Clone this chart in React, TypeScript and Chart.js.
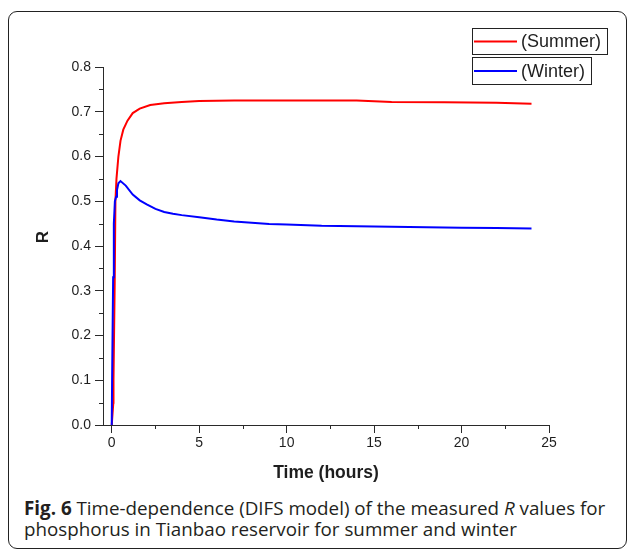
import React, { useEffect, useRef } from "react";
import { Chart, registerables } from "chart.js";

Chart.register(...registerables);

// ---- data ----
const summerTime = [0, 0.09, 0.1, 0.17, 0.21, 0.27, 0.38, 0.5, 0.66, 0.9, 1.2, 1.6, 2.2, 3, 4, 5, 7, 10, 14, 16, 19, 22, 24];
const summerR = [0, 0.05, 0.1, 0.32, 0.5, 0.55, 0.6, 0.635, 0.66, 0.68, 0.697, 0.707, 0.715, 0.719, 0.722, 0.724, 0.725, 0.725, 0.725, 0.722, 0.721, 0.72, 0.718];

const winterTime = [0, 0.02, 0.08, 0.12, 0.18, 0.25, 0.3, 0.38, 0.5, 0.8, 1.2, 1.6, 2.0, 2.5, 3, 3.5, 4, 5, 6, 7, 8, 9, 10, 12, 14, 16, 18, 20, 22, 24];
const winterR = [0, 0.1, 0.33, 0.45, 0.5, 0.51, 0.525, 0.54, 0.545, 0.535, 0.515, 0.502, 0.493, 0.483, 0.476, 0.472, 0.469, 0.464, 0.459, 0.455, 0.452, 0.449, 0.448, 0.445, 0.444, 0.443, 0.442, 0.441, 0.44, 0.439];

const seriesLabels = ["(Summer)", "(Winter)"];
const seriesColors = ["#ff0000", "#0000ff"];

const xTickValues = [0, 5, 10, 15, 20, 25];
const yTickValues = [0, 0.1, 0.2, 0.3, 0.4, 0.5, 0.6, 0.7, 0.8];
const xMinorTicks = [2.5, 7.5, 12.5, 17.5, 22.5];
const yMinorTicks = [0.05, 0.15, 0.25, 0.35, 0.45, 0.55, 0.65, 0.75];

const xTitle = "Time (hours)";
const yTitle = "R";

const AXIS_COLOR = "#2a2a2a";
const TEXT_COLOR = "#1e1e1e";
const FONT = "'Liberation Sans', Arial, sans-serif";

const decorPlugin = {
  id: "decor",
  afterDraw(chart: any) {
    const ctx = chart.ctx as CanvasRenderingContext2D;
    const xs = chart.scales.x;
    const ys = chart.scales.y;
    ctx.save();
    // minor ticks
    ctx.strokeStyle = AXIS_COLOR;
    ctx.lineWidth = 1;
    ctx.beginPath();
    xMinorTicks.forEach((v) => {
      const px = Math.round(xs.getPixelForValue(v)) + 0.5;
      ctx.moveTo(px, ys.bottom);
      ctx.lineTo(px, ys.bottom + 4);
    });
    yMinorTicks.forEach((v) => {
      const py = Math.round(ys.getPixelForValue(v)) + 0.5;
      ctx.moveTo(xs.left, py);
      ctx.lineTo(xs.left - 4, py);
    });
    ctx.stroke();

    // y-axis title
    ctx.save();
    ctx.translate(43, (ys.top + ys.bottom) / 2 - 9);
    ctx.rotate(-Math.PI / 2);
    ctx.fillStyle = TEXT_COLOR;
    ctx.font = `bold 17px ${FONT}`;
    ctx.textAlign = "center";
    ctx.textBaseline = "middle";
    ctx.fillText(yTitle, 0, 0);
    ctx.restore();

    // legend: two separate boxes
    const boxLeft = 472;
    const tops = [28, 57];
    const heights = [26, 27];
    ctx.font = `18px ${FONT}`;
    chart.data.datasets.forEach((ds: any, i: number) => {
      const label = ds.label as string;
      const tw = ctx.measureText(label).width;
      const w = 49 + tw + 6;
      ctx.strokeStyle = "#222";
      ctx.lineWidth = 1;
      ctx.strokeRect(boxLeft + 0.5, tops[i] + 0.5, w, heights[i]);
      const cy = tops[i] + heights[i] / 2 + 0.5;
      ctx.strokeStyle = ds.borderColor;
      ctx.lineWidth = 2;
      ctx.beginPath();
      ctx.moveTo(boxLeft + 2, cy);
      ctx.lineTo(boxLeft + 45, cy);
      ctx.stroke();
      ctx.fillStyle = TEXT_COLOR;
      ctx.textAlign = "left";
      ctx.textBaseline = "middle";
      ctx.fillText(label, boxLeft + 49, cy + 1);
    });
    ctx.restore();
  },
};

export default function App() {
  const canvasRef = useRef<HTMLCanvasElement | null>(null);

  useEffect(() => {
    const canvas = canvasRef.current;
    if (!canvas) return;
    const chart = new Chart(canvas, {
      type: "line",
      data: {
        datasets: [
          {
            label: seriesLabels[0],
            data: summerTime.map((t, i) => ({ x: t, y: summerR[i] })),
            borderColor: seriesColors[0],
            backgroundColor: seriesColors[0],
            borderWidth: 2,
            pointRadius: 0,
            tension: 0,
            order: 1,
          },
          {
            label: seriesLabels[1],
            data: winterTime.map((t, i) => ({ x: t, y: winterR[i] })),
            borderColor: seriesColors[1],
            backgroundColor: seriesColors[1],
            borderWidth: 2,
            pointRadius: 0,
            tension: 0,
            order: 0,
          },
        ],
      },
      options: {
        responsive: false,
        maintainAspectRatio: false,
        animation: false,
        events: [],
        layout: { padding: { left: 0, top: 67, right: 78, bottom: 0 } },
        plugins: {
          legend: { display: false },
          tooltip: { enabled: false },
          title: { display: false },
        },
        scales: {
          x: {
            type: "linear",
            min: -0.5,
            max: 25,
            afterBuildTicks: (s: any) => {
              s.ticks = xTickValues.map((v) => ({ value: v }));
            },
            afterFit: (s: any) => {
              s.height = 59;
            },
            border: { display: true, color: AXIS_COLOR, width: 1 },
            grid: {
              drawOnChartArea: false,
              drawTicks: true,
              tickLength: 8,
              tickColor: AXIS_COLOR,
              color: AXIS_COLOR,
            },
            ticks: {
              padding: 2,
              color: TEXT_COLOR,
              font: { family: FONT, size: 14 },
              maxRotation: 0,
              callback: (v: any) => String(v),
            },
            title: {
              display: true,
              text: xTitle,
              color: TEXT_COLOR,
              font: { family: FONT, size: 17.5, weight: "bold" },
              padding: { top: 0, bottom: 0 },
            },
          },
          y: {
            type: "linear",
            min: 0,
            max: 0.8,
            afterBuildTicks: (s: any) => {
              s.ticks = yTickValues.map((v) => ({ value: v }));
            },
            afterFit: (s: any) => {
              s.width = 103;
            },
            border: { display: true, color: AXIS_COLOR, width: 1 },
            grid: {
              drawOnChartArea: false,
              drawTicks: true,
              tickLength: 8,
              tickColor: AXIS_COLOR,
              color: AXIS_COLOR,
            },
            ticks: {
              padding: 4,
              color: TEXT_COLOR,
              font: { family: FONT, size: 14 },
              callback: (v: any) => Number(v).toFixed(1),
            },
            title: { display: false },
          },
        },
      },
      plugins: [decorPlugin],
    } as any);
    return () => chart.destroy();
  }, []);

  return (
    <div style={{ position: "absolute", left: 0, top: 0, width: 627, height: 552, overflow: "hidden", background: "#fff" }}>
      <div
        style={{
          position: "absolute",
          left: 8,
          top: 11,
          width: 619,
          height: 538,
          boxSizing: "border-box",
          border: "1.5px solid #222",
          borderRadius: 9,
        }}
      />
      <canvas
        ref={canvasRef}
        width={627}
        height={484}
        style={{ position: "absolute", left: 0, top: 0, width: 627, height: 484 }}
      />
      <div
        style={{
          position: "absolute",
          left: 24,
          top: 498,
          fontFamily: "'Open Sans', sans-serif",
          fontSize: 18.8,
          lineHeight: "21px",
          color: "#231f20",
          whiteSpace: "nowrap",
        }}
      >
        <b>Fig. 6</b> Time-dependence (DIFS model) of the measured <i>R</i> values for
        <br />
        phosphorus in Tianbao reservoir for summer and winter
      </div>
    </div>
  );
}
